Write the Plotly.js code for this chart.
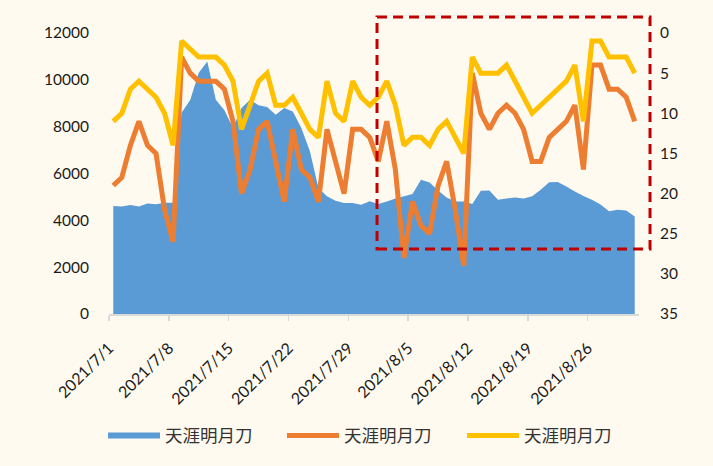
<!DOCTYPE html>
<html>
<head>
<meta charset="utf-8">
<script src="https://cdn.plot.ly/plotly-3.0.1.min.js"></script>
<style>
html,body{margin:0;padding:0;background:#FFFAEF;}
#chart{width:713px;height:466px;}
</style>
</head>
<body>
<div id="chart"></div>
<script>
// Data (daily, 2021/7/1 – 2021/8/31)
const startDate = '2021-07-01';
const dayCount = 62;
const seriesName = '天涯明月刀';
const areaValues = [
  4610, 4590, 4650, 4590, 4720, 4690, 4750, 4750, 8600, 9140,
  10300, 10780, 9150, 8700, 7950, 8800, 9150, 8910, 8840, 8510,
  8800, 8650, 7940, 6950, 5380, 5025, 4840, 4740, 4740, 4670,
  4820, 4700, 4800, 4930, 5030, 5120, 5730, 5620, 5270, 4980,
  4800, 4800, 4700, 5260, 5270, 4880, 4930, 4980, 4930, 5030,
  5310, 5630, 5640, 5450, 5230, 5040, 4880, 4680, 4390, 4450,
  4420, 4160
];
const orangeRank = [
  19, 18, 14, 11, 14, 15, 22, 26, 3, 5,
  6, 6, 6, 7, 11, 20, 17, 12, 11, 16,
  21, 12, 17, 18, 21, 12, 16, 20, 12, 12,
  13, 16, 11, 17, 28, 21, 24, 25, 19, 16,
  22, 29, 5, 10, 12, 10, 9, 10, 12, 16,
  16, 13, 12, 11, 9, 17, 4, 4, 7, 7,
  8, 11
];
const yellowRank = [
  11, 10, 7, 6, 7, 8, 10, 14, 1, 2,
  3, 3, 3, 4, 6, 12, 9, 6, 5, 9,
  9, 8, 10, 12, 13, 6, 10, 11, 6, 8,
  9, 8, 6, 9, 14, 13, 13, 14, 12, 11,
  13, 15, 3, 5, 5, 5, 4, 6, 8, 10,
  9, 8, 7, 6, 4, 11, 1, 1, 3, 3,
  3, 5
];
const xTickLabels = ['2021/7/1','2021/7/8','2021/7/15','2021/7/22','2021/7/29','2021/8/5','2021/8/12','2021/8/19','2021/8/26'];
const leftTicks = [0, 2000, 4000, 6000, 8000, 10000, 12000];
const rightTicks = [0, 5, 10, 15, 20, 25, 30, 35];

// date categories
function isoDay(base, offset) {
  const d = new Date(base + 'T00:00:00Z');
  d.setUTCDate(d.getUTCDate() + offset);
  return d.toISOString().slice(0, 10);
}
const dates = [];
for (let i = 0; i < dayCount; i++) dates.push(isoDay(startDate, i));
function labelToTickPos(lbl) {
  const p = lbl.split('/');
  const iso = p[0] + '-' + String(p[1]).padStart(2, '0') + '-' + String(p[2]).padStart(2, '0');
  const d = new Date(iso + 'T00:00:00Z');
  d.setUTCHours(d.getUTCHours() - 12);
  return d.toISOString().slice(0, 16).replace('T', ' ');
}
const xTickVals = xTickLabels.map(labelToTickPos);
const xStart = (function(){const d=new Date(dates[0]+'T00:00:00Z');d.setUTCHours(-12);return d.toISOString().slice(0,16).replace('T',' ');})();
const xEnd = dates[dates.length-1] + ' 12:00';

const tickFont = {family: 'Lato, "Open Sans", sans-serif', size: 15.5, color: '#1a1a1a'};

const traces = [
  {
    x: dates, y: areaValues, name: seriesName, type: 'scatter', mode: 'none',
    fill: 'tozeroy', fillcolor: '#5B9BD5', yaxis: 'y', hoverinfo: 'skip', legend: 'legend'
  },
  {
    x: dates, y: orangeRank, name: seriesName, type: 'scatter', mode: 'lines',
    line: {color: '#ED7D31', width: 5, shape: 'linear'}, yaxis: 'y2', hoverinfo: 'skip', legend: 'legend2'
  },
  {
    x: dates, y: yellowRank, name: seriesName, type: 'scatter', mode: 'lines',
    line: {color: '#FFC000', width: 5, shape: 'linear'}, yaxis: 'y2', hoverinfo: 'skip', legend: 'legend3'
  }
];

function legendAt(xFrac) {
  return {
    orientation: 'h', x: xFrac, xanchor: 'left', xref: 'container',
    y: 0.065, yanchor: 'middle', yref: 'container',
    font: {family: '"Noto Sans CJK SC", sans-serif', size: 17.5, color: '#333333'},
    itemwidth: 52, bgcolor: 'rgba(0,0,0,0)'
  };
}

const layout = {
  width: 713, height: 466,
  margin: {l: 109, r: 74, t: 33, b: 152, pad: 0},
  paper_bgcolor: '#FFFAEF', plot_bgcolor: '#FFFAEF',
  showlegend: true,
  xaxis: {
    type: 'date', range: [xStart, xEnd],
    tickmode: 'array', tickvals: xTickVals, ticktext: xTickLabels,
    tickangle: -45, tickfont: {family: 'Lato, "Open Sans", sans-serif', size: 16, color: '#1a1a1a'},
    showline: true, linecolor: '#D9D9D9', linewidth: 1.5,
    ticks: 'outside', ticklen: 5, tickcolor: '#D9D9D9', tickwidth: 1.5,
    ticklabelstandoff: 12,
    showgrid: false, zeroline: false, fixedrange: true
  },
  yaxis: {
    range: [0, 12000], tickmode: 'array', tickvals: leftTicks, tickformat: 'd',
    tickfont: tickFont, showgrid: false, zeroline: false, showline: false,
    ticks: '', ticklabelstandoff: 19, fixedrange: true
  },
  yaxis2: {
    range: [35, 0], overlaying: 'y', side: 'right', anchor: 'x',
    tickmode: 'array', tickvals: rightTicks, tickformat: 'd',
    tickfont: tickFont, showgrid: false, zeroline: false, showline: false,
    ticks: '', ticklabelstandoff: 20, fixedrange: true
  },
  legend: legendAt(0.1445),
  legend2: legendAt(0.3955),
  legend3: legendAt(0.648),
  shapes: [
    {
      type: 'rect', xref: 'paper', yref: 'paper',
      x0: 0.5057, x1: 1.0208, y0: 0.2313, y1: 1.0569,
      line: {color: '#C00000', width: 3, dash: '10px,6px'},
      fillcolor: 'rgba(0,0,0,0)', layer: 'above'
    }
  ]
};

Plotly.newPlot('chart', traces, layout, {displayModeBar: false, staticPlot: true});
</script>
</body>
</html>
